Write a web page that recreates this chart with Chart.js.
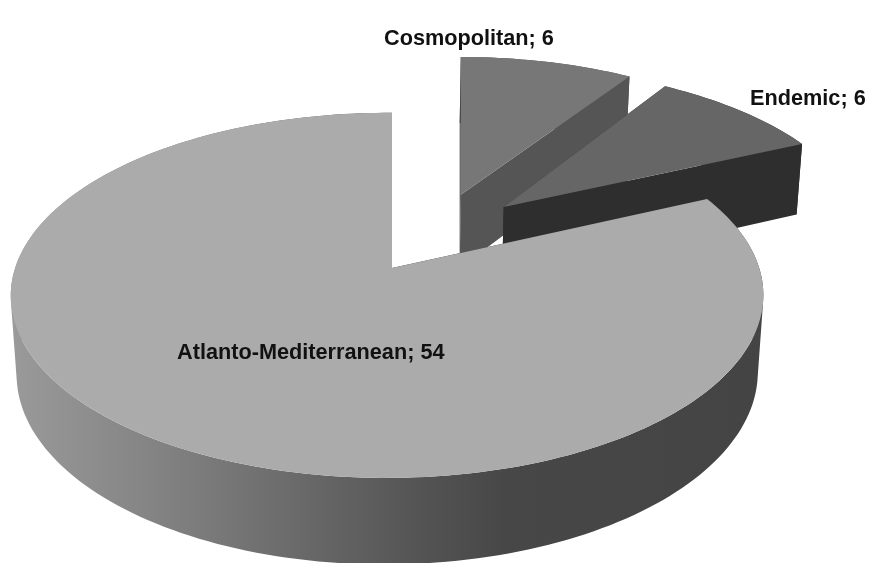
<!DOCTYPE html>
<html>
<head>
<meta charset="utf-8">
<style>
  html, body { margin: 0; padding: 0; background: #fff; }
  canvas { display: block; }
</style>
<script src="https://cdn.jsdelivr.net/npm/chart.js@4/dist/chart.umd.min.js"></script>
</head>
<body>
<canvas id="regionPie" width="876" height="563"></canvas>
<script>
const categories = ['Cosmopolitan', 'Endemic', 'Atlanto-Mediterranean'];
const species = [6, 6, 54];

// slice looks
const topColors = ['#777777', '#666666', '#ababab'];
const cutColors = ['#555555', '#2e2e2e', '#6a6a6a'];
const explode = [0.48, 0.48, 0];
// how much of the sideways pull is a flat screen move instead of a move across the disc
const flatShare = [1, 0.25, 0];

// where each "name; value" text sits
const labelSpots = [[384, 45], [750, 105], [177, 359]];

// camera for the tilted disc
const cam = { x: 392, y: 268, rx: 372, ry: 178.4, persp: 0.15, drop: 78, dropPersp: 0.015, tilt: 0.013, pull: 0.52 };

// u is across the disc, v goes away from the viewer, low = bottom face
const project = (u, v, low, tilt, flat) => {
  const f = 1 / (1 + cam.persp * v + tilt * u + (low ? cam.dropPersp : 0));
  const shift = low ? flat / (1 + cam.dropPersp) : flat;
  return [cam.x + shift + cam.rx * u * f, cam.y - cam.ry * v * f + (low ? cam.drop * f : 0)];
};

const rimGradient = (ctx) => {
  const g = ctx.createLinearGradient(10, 0, 763, 0);
  g.addColorStop(0, '#9a9a9a');
  g.addColorStop(0.18, '#858585');
  g.addColorStop(0.38, '#6a6a6a');
  g.addColorStop(0.56, '#525252');
  g.addColorStop(0.66, '#474747');
  g.addColorStop(1, '#444444');
  return g;
};

const pie3d = {
  id: 'pie3d',
  beforeDatasetsDraw(chart) {
    const ctx = chart.ctx;
    const arcs = chart.getDatasetMeta(0).data;
    // the two pulled slices leave along directions squeezed towards their shared edge
    const gapMid = arcs[0].endAngle + Math.PI / 2;

    arcs.forEach((arc, i) => {
      const a0 = arc.startAngle + Math.PI / 2;
      const a1 = arc.endAngle + Math.PI / 2;
      const mid = gapMid + ((a0 + a1) / 2 - gapMid) * cam.pull;
      const side = Math.sin(mid) * explode[i];
      const ov = Math.cos(mid) * explode[i];
      const ou = side * (1 - flatShare[i]);
      const flat = cam.rx * side * flatShare[i] / (1 + cam.persp * ov);
      const tilt = explode[i] ? 0 : cam.tilt;

      const rimPts = (low) => {
        const pts = [];
        const steps = Math.ceil((a1 - a0) * 40);
        for (let s = 0; s <= steps; s++) {
          const t = a0 + (a1 - a0) * s / steps;
          pts.push(project(ou + Math.sin(t), ov + Math.cos(t), low, tilt, flat));
        }
        return pts;
      };
      const addPoly = (pts) => {
        pts.forEach((p, k) => (k ? ctx.lineTo(p[0], p[1]) : ctx.moveTo(p[0], p[1])));
        ctx.closePath();
      };
      const fillPoly = (pts, color) => {
        ctx.beginPath();
        addPoly(pts);
        ctx.fillStyle = color;
        ctx.fill();
      };

      const top = rimPts(false);
      const low = rimPts(true);
      const apexTop = project(ou, ov, false, tilt, flat);
      const apexLow = project(ou, ov, true, tilt, flat);

      // outer wall as one path of quads, all wound the same way so the silhouette stays filled
      ctx.beginPath();
      for (let k = 0; k < top.length - 1; k++) {
        const quad = [top[k], top[k + 1], low[k + 1], low[k]];
        let area = 0;
        quad.forEach((p, n) => {
          const q = quad[(n + 1) % 4];
          area += p[0] * q[1] - q[0] * p[1];
        });
        addPoly(area < 0 ? quad.reverse() : quad);
      }
      ctx.fillStyle = i === 2 ? rimGradient(ctx) : cutColors[i];
      ctx.fill();

      // cut walls, then the top face over everything
      fillPoly([apexTop, top[0], low[0], apexLow], '#333333');
      fillPoly([apexTop, top[top.length - 1], low[low.length - 1], apexLow], cutColors[i]);
      fillPoly([apexTop].concat(top), topColors[i]);
    });

    return false;
  },
  afterDraw(chart) {
    const ctx = chart.ctx;
    ctx.font = 'bold 21.7px "Liberation Sans", Arial, sans-serif';
    ctx.fillStyle = '#111111';
    ctx.textAlign = 'left';
    ctx.textBaseline = 'alphabetic';
    categories.forEach((name, i) => {
      ctx.fillText(name + '; ' + species[i], labelSpots[i][0], labelSpots[i][1]);
    });
  }
};

new Chart(document.getElementById('regionPie'), {
  type: 'pie',
  data: {
    labels: categories,
    datasets: [{ data: species, backgroundColor: topColors, borderWidth: 0 }]
  },
  options: {
    responsive: false,
    animation: false,
    rotation: 0,
    plugins: { legend: { display: false }, tooltip: { enabled: false } }
  },
  plugins: [pie3d]
});
</script>
</body>
</html>
